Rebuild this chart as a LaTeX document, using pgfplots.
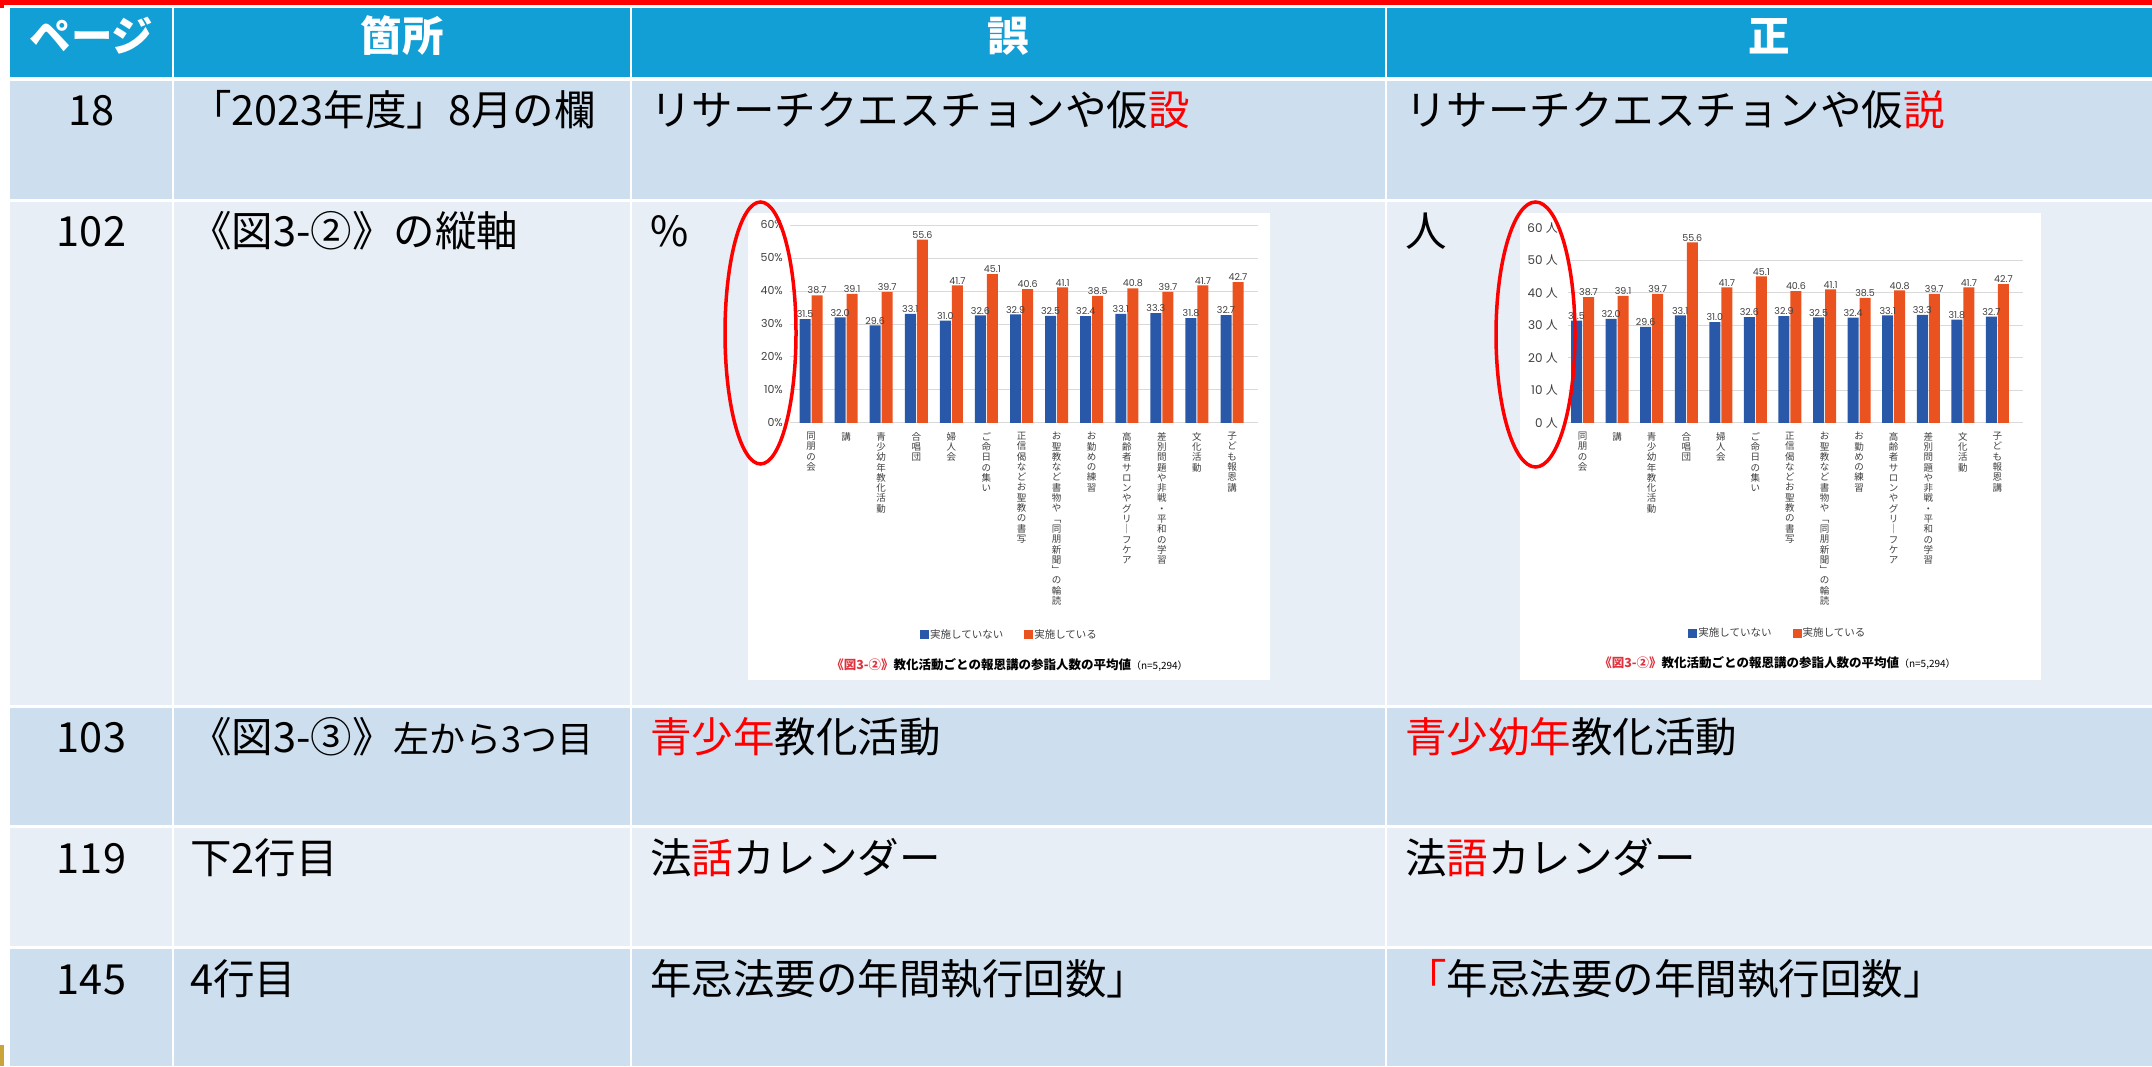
\documentclass[border=0pt]{standalone}
\usepackage{fontspec}
\usepackage{pgfplots}
\pgfplotsset{compat=1.18}
\setmainfont{Noto Sans CJK JP}
\newfontfamily\jp{Noto Sans CJK JP}
\newfontfamily\numfont{Poppins}
\definecolor{hdr}{HTML}{129FD6}
\definecolor{rowA}{HTML}{CDDEEE}
\definecolor{rowB}{HTML}{E7EEF6}
\definecolor{barblue}{HTML}{2A58A8}
\definecolor{barorange}{HTML}{EA531F}
\definecolor{capred}{HTML}{E0323C}
\definecolor{axtext}{HTML}{404040}
\definecolor{gridc}{HTML}{D9D9D9}
\definecolor{goldc}{HTML}{C9A43A}
\newcommand\tbl{\fontsize{41.5}{48}\selectfont}
\newcommand\tbs{\fontsize{36}{42}\selectfont}
\pgfplotsset{
  erratachart/.style={
    scale only axis, anchor=south west, enlargelimits=false, clip=false,
    ybar=1pt, bar width=11pt,
    ymin=0, ymax=60,
    xtick={0,...,12},
    xticklabels={{同\\朋\\の\\会},{講},{青\\少\\幼\\年\\教\\化\\活\\動},{合\\唱\\団},{婦\\人\\会},{ご\\命\\日\\の\\集\\い},{正\\信\\偈\\な\\ど\\お\\聖\\教\\の\\書\\写},{お\\聖\\教\\な\\ど\\書\\物\\や\\﹁\\同\\朋\\新\\聞\\﹂\\の\\輪\\読},{お\\勤\\め\\の\\練\\習},{高\\齢\\者\\サ\\ロ\\ン\\や\\グ\\リ\\｜\\フ\\ケ\\ア},{差\\別\\問\\題\\や\\非\\戦\\・\\平\\和\\の\\学\\習},{文\\化\\活\\動},{子\\ど\\も\\報\\恩\\講}},
    axis lines*=left, axis line style={draw=none},
    major tick length=0pt,
    ymajorgrids, grid style={gridc, line width=1pt},
    xticklabel style={font=\fontsize{9.5}{10.3}\selectfont, text=axtext, align=center, anchor=north, inner sep=0pt, yshift=-9pt},
    yticklabel style={font=\numfont\fontsize{11}{13}\selectfont, text=axtext, anchor=east, inner sep=0pt},
    nodes near coords={\pgfmathprintnumber[fixed,fixed zerofill,precision=1,assume math mode=true]{\pgfplotspointmeta}},
    every node near coord/.append style={font=\numfont\fontsize{9.5}{11}\selectfont, text=axtext, inner sep=1pt, anchor=south},
    legend style={draw=none, fill=none, legend columns=2, font=\fontsize{10.5}{12}\selectfont, text=axtext, anchor=center, /tikz/every even column/.append style={column sep=20pt}, nodes={inner sep=1pt}},
    legend image code/.code={\fill[#1] (0pt,-4.5pt) rectangle (9pt,4.5pt);},
  }
}
\begin{document}
\begin{tikzpicture}[x=1pt,y=1pt]
\useasboundingbox (0,0) rectangle (2152,1066);
\fill[white] (0,0) rectangle (2152,1066);
% top red line
\fill[red] (0,1061) rectangle (2152,1066);
\fill[red] (0,1058) rectangle (4,1066);
% header and rows
\fill[hdr] (10,989) rectangle (2152,1058);
\fill[rowA] (10,867) rectangle (2152,985);
\fill[rowB] (10,361) rectangle (2152,864);
\fill[rowA] (10,241) rectangle (2152,358);
\fill[rowB] (10,120) rectangle (2152,238);
\fill[rowA] (10,0) rectangle (2152,117);
\foreach \cx in {173,631,1386} {\fill[white] (\cx-1,0) rectangle (\cx+1,1058);}
\fill[goldc] (0,0) rectangle (4,21);
% header text
\begin{scope}[every node/.style={inner sep=0pt, text=white, font=\tbl\bfseries}]
\node[anchor=base] at (91.5,1014) {ページ};
\node[anchor=base] at (402,1014) {箇所};
\node[anchor=base] at (1008.5,1014) {誤};
\node[anchor=base] at (1769,1014) {正};
\end{scope}
% body text
\begin{scope}[every node/.style={inner sep=0pt, text=black, font=\tbl}]
\node[anchor=base] at (91.5,940) {18};
\node[anchor=base west] at (190,940) {「2023年度」8月の欄};
\node[anchor=base west] at (650,940) {リサーチクエスチョンや仮\textcolor{red}{設}};
\node[anchor=base west] at (1405,940) {リサーチクエスチョンや仮\textcolor{red}{説}};
\node[anchor=base] at (91.5,819) {102};
\node[anchor=base west] at (190,819) {《図3-②》の縦軸};
\node[anchor=base west] at (650,819) {\%};
\node[anchor=base west] at (1405,819) {人};
\node[anchor=base] at (91.5,313) {103};
\node[anchor=base west] at (190,313) {《図3-③》{\tbs 左から3つ目}};
\node[anchor=base west] at (650,313) {\textcolor{red}{青少年}教化活動};
\node[anchor=base west] at (1405,313) {\textcolor{red}{青少幼年}教化活動};
\node[anchor=base] at (91.5,193) {119};
\node[anchor=base west] at (190,193) {下2行目};
\node[anchor=base west] at (650,193) {法\textcolor{red}{話}カレンダー};
\node[anchor=base west] at (1405,193) {法\textcolor{red}{語}カレンダー};
\node[anchor=base] at (91.5,72) {145};
\node[anchor=base west] at (190,72) {4行目};
\node[anchor=base west] at (650,72) {年忌法要の年間執行回数」};
\node[anchor=base west] at (1405,72) {\textcolor{red}{「}年忌法要の年間執行回数」};
\end{scope}
% chart boxes
\fill[white] (748,386) rectangle (1270,853);
\fill[white] (1520,386) rectangle (2041,853);
% left chart
\begin{axis}[erratachart, at={(790pt,643pt)}, width=468pt, height=198pt,
  xmin=-0.6, xmax=12.74,
  ytick={0,10,...,60}, yticklabels={0\%,10\%,20\%,30\%,40\%,50\%,60\%},
  yticklabel style={xshift=-7pt},
  legend style={at={(axis description cs:0.468,-1.07)}}]
\addplot[fill=barblue, draw=none] coordinates {(0,31.5) (1,32.0) (2,29.6) (3,33.1) (4,31.0) (5,32.6) (6,32.9) (7,32.5) (8,32.4) (9,33.1) (10,33.3) (11,31.8) (12,32.7)};
\addlegendentry{実施していない}
\addplot[fill=barorange, draw=none] coordinates {(0,38.7) (1,39.1) (2,39.7) (3,55.6) (4,41.7) (5,45.1) (6,40.6) (7,41.1) (8,38.5) (9,40.8) (10,39.7) (11,41.7) (12,42.7)};
\addlegendentry{実施している}
\end{axis}
\node[font=\fontsize{12.5}{15}\selectfont\bfseries, inner sep=0pt] at (1009.5,401) {\textcolor{capred}{《図3-②》}教化活動ごとの報恩講の参詣人数の平均値{\mdseries\fontsize{10}{12}\selectfont （n=5,294）}};
% right chart
\begin{axis}[erratachart, at={(1568pt,643pt)}, width=455pt, height=195pt,
  xmin=-0.42, xmax=12.74,
  ytick={0,10,...,50}, yticklabels={0 {\jp 人},10 {\jp 人},20 {\jp 人},30 {\jp 人},40 {\jp 人},50 {\jp 人}},
  extra y ticks={60}, extra y tick labels={60 {\jp 人}}, extra y tick style={grid=none},
  yticklabel style={xshift=-10pt, font=\numfont\fontsize{12}{14}\selectfont},
  legend style={at={(axis description cs:0.46,-1.077)}}]
\addplot[fill=barblue, draw=none] coordinates {(0,31.5) (1,32.0) (2,29.6) (3,33.1) (4,31.0) (5,32.6) (6,32.9) (7,32.5) (8,32.4) (9,33.1) (10,33.3) (11,31.8) (12,32.7)};
\addlegendentry{実施していない}
\addplot[fill=barorange, draw=none] coordinates {(0,38.7) (1,39.1) (2,39.7) (3,55.6) (4,41.7) (5,45.1) (6,40.6) (7,41.1) (8,38.5) (9,40.8) (10,39.7) (11,41.7) (12,42.7)};
\addlegendentry{実施している}
\end{axis}
\node[font=\fontsize{12.5}{15}\selectfont\bfseries, inner sep=0pt] at (1777.5,403) {\textcolor{capred}{《図3-②》}教化活動ごとの報恩講の参詣人数の平均値{\mdseries\fontsize{10}{12}\selectfont （n=5,294）}};
% red ellipses
\draw[red, line width=3.5pt] (760.5,733) ellipse [x radius=35.5, y radius=131];
\draw[red, line width=3.5pt] (1535.5,731.5) ellipse [x radius=39.5, y radius=132.5];
\end{tikzpicture}
\end{document}
